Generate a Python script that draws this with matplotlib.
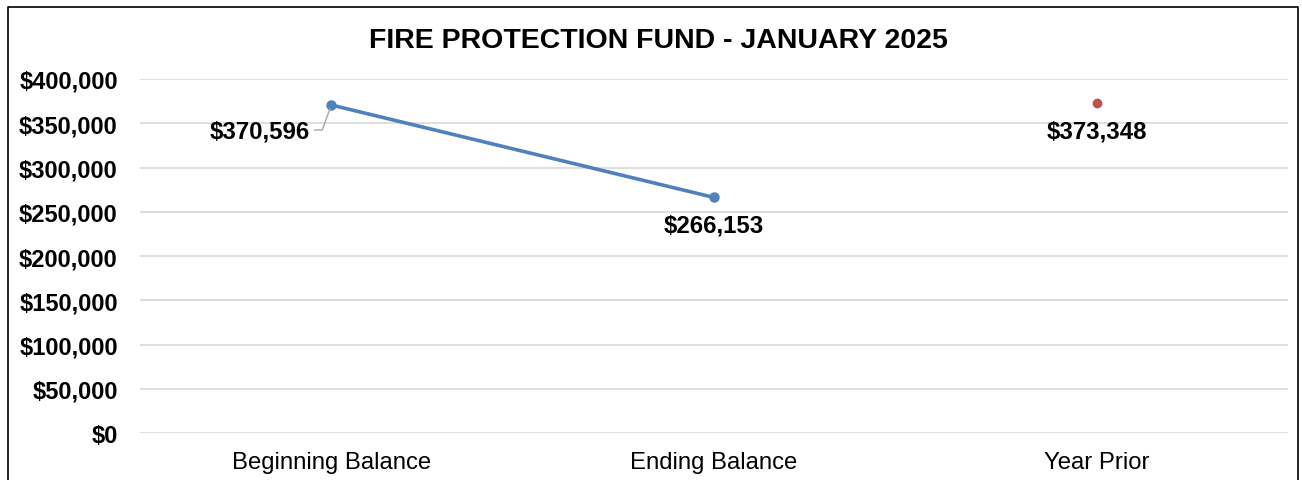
import matplotlib
matplotlib.use("Agg")
import matplotlib.pyplot as plt
from matplotlib.lines import Line2D
from matplotlib.ticker import FuncFormatter

plt.rcParams["font.family"] = ["Liberation Sans", "DejaVu Sans"]

TITLE = "FIRE PROTECTION FUND - JANUARY 2025"
categories = ["Beginning Balance", "Ending Balance", "Year Prior"]
balance_values = [370596, 266153]
prior_values = [373348]
y_ticks = [0, 50000, 100000, 150000, 200000, 250000, 300000, 350000, 400000]

W, H = 1302, 481
fig = plt.figure(figsize=(W / 100, H / 100), dpi=100)
fig.patch.set_facecolor("white")

ax = fig.add_axes([140 / W, 1 - 434 / H, (1288 - 140) / W, (434 - 80) / H])
ax.set_xlim(-0.5, len(categories) - 0.5)
ax.set_ylim(0, 400000)

blue = "#4F81BD"
red = "#C0504D"

ax.plot(range(len(balance_values)), balance_values, color=blue, linewidth=2.6,
        marker="o", markersize=6.5, zorder=3, solid_capstyle="round")
ax.plot([2], prior_values, linestyle="none", color=red, marker="o",
        markersize=6, zorder=3)

ax.set_yticks(y_ticks)
ax.yaxis.set_major_formatter(FuncFormatter(lambda v, p: f"${v:,.0f}"))
ax.set_xticks(range(len(categories)))
ax.set_xticklabels(categories)
ax.tick_params(axis="y", length=0, pad=16, labelsize=17)
ax.tick_params(axis="x", length=0, pad=13, labelsize=17.2)
for lab in ax.get_yticklabels():
    lab.set_fontweight("bold")
ax.grid(axis="y", color="#D9D9D9", linewidth=1.2)
ax.set_axisbelow(True)
for s in ax.spines.values():
    s.set_visible(False)

# data labels
lab_kw = dict(fontsize=17.3, fontweight="bold", color="black", textcoords="offset pixels")
ax.annotate(f"${balance_values[0]:,.0f}", (0, balance_values[0]), xytext=(-72, -26),
            ha="center", va="center", **lab_kw)
# leader line for first label
ax.annotate("", (0, balance_values[0]), xytext=(-17, -25), textcoords="offset pixels",
            arrowprops=dict(arrowstyle="-", color="#A6A6A6", lw=1.0,
                            connectionstyle="angle,angleA=0,angleB=70,rad=0",
                            shrinkA=0, shrinkB=3))
ax.annotate(f"${balance_values[1]:,.0f}", (1, balance_values[1]), xytext=(0, -28),
            ha="center", va="center", **lab_kw)
ax.annotate(f"${prior_values[0]:,.0f}", (2, prior_values[0]), xytext=(0, -28),
            ha="center", va="center", **lab_kw)

fig.text(658 / W, 1 - 41 / H, TITLE, ha="center", va="center", fontsize=20.5,
         fontweight="bold")

# chart border
bx = [8 / W, 8 / W, 1298 / W, 1298 / W]
by = [0, 1 - 8 / H, 1 - 8 / H, 0]
fig.add_artist(Line2D(bx, by, color="black", linewidth=1.2, transform=fig.transFigure))

fig.savefig("out.png", dpi=100, facecolor="white")
